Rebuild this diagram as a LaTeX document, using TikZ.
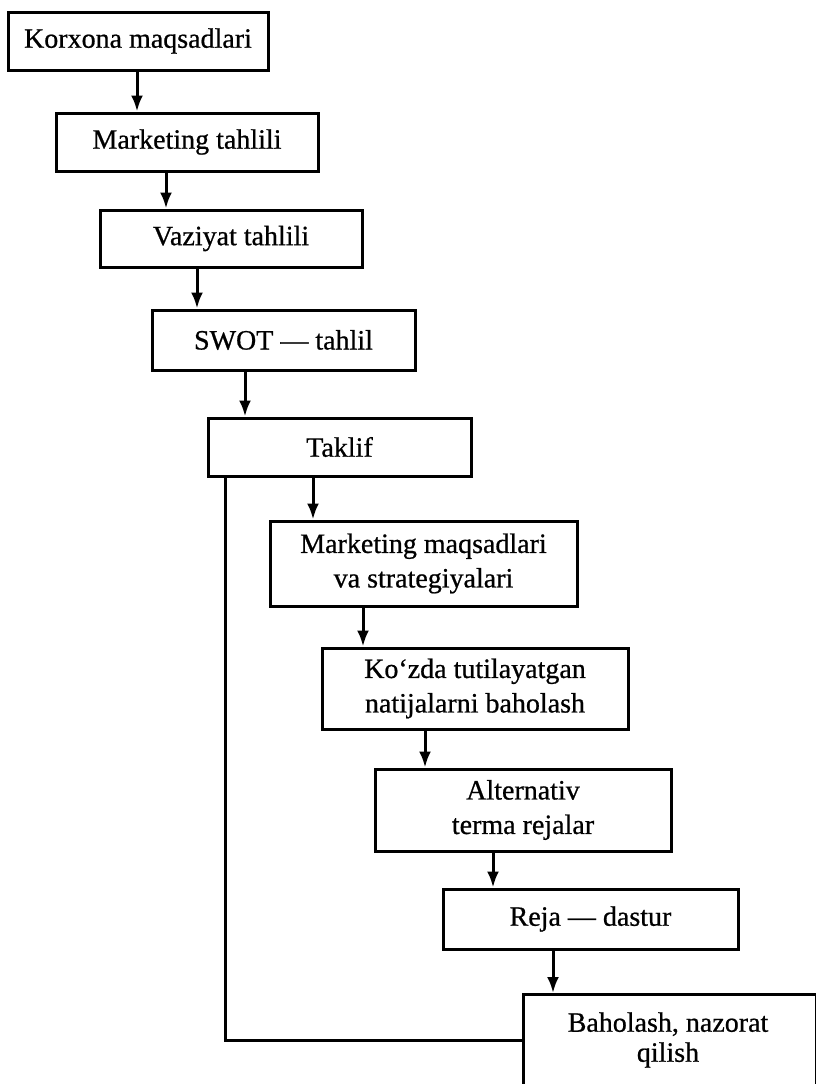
\documentclass[tikz,border=0pt]{standalone}
\usepackage{fontspec}
\setmainfont{Liberation Serif}[FakeBold=0.7]
\usetikzlibrary{arrows.meta}
\tikzset{
  box/.style={draw, line width=3pt, inner sep=0pt, align=center,
    font=\fontsize{28}{34.5}\selectfont},
  arr/.style={line width=3pt, -{Latex[length=16pt,width=12pt]}},
  fbline/.style={line width=3pt},
}
\begin{document}
\begin{tikzpicture}[x=1pt,y=-1pt]
\useasboundingbox (0,0) rectangle (816,1084);
\node[box, minimum width=260pt, minimum height=58pt] (b1) at (138,41) {Korxona maqsadlari};
\node[box, minimum width=262pt, minimum height=58pt] (b2) at (187,142) {Marketing tahlili};
\node[box, minimum width=262pt, minimum height=57pt] (b3) at (231,238.5) {Vaziyat tahlili};
\node[box, minimum width=263pt, minimum height=60pt] (b4) at (283.5,340) {SWOT — tahlil};
\node[box, minimum width=263pt, minimum height=58pt] (b5) at (339.5,447) {Taklif};
\node[box, minimum width=307pt, minimum height=85pt] (b6) at (423.5,563.5) {Marketing maqsadlari\\va strategiyalari};
\node[box, minimum width=306pt, minimum height=81pt] (b7) at (475,688.5) {Ko‘zda tutilayatgan\\natijalarni baholash};
\node[box, minimum width=296pt, minimum height=82pt] (b8) at (523,810) {Alternativ\\terma rejalar};
\node[box, minimum width=295pt, minimum height=60pt] (b9) at (590.5,919) {Reja — dastur};
\node[box, minimum width=293pt, minimum height=102pt, anchor=north west] (b10) at (522,993) {};
\node[align=center, inner sep=0pt, font=\fontsize{28}{30}\selectfont] (b10t) at (668,1040) {Baholash, nazorat\\qilish};

\draw[arr] ([xshift=-1pt]b1.south) coordinate (t1) -- (t1 |- b2.north);
\draw[arr] ([xshift=-21pt]b2.south) coordinate (t2) -- (t2 |- b3.north);
\draw[arr] ([xshift=-34pt]b3.south) coordinate (t3) -- (t3 |- b4.north);
\draw[arr] ([xshift=-38.5pt]b4.south) coordinate (t4) -- (t4 |- b5.north);
\draw[arr] ([xshift=-26.5pt]b5.south) coordinate (t5) -- (t5 |- b6.north);
\draw[arr] ([xshift=-60.5pt]b6.south) coordinate (t6) -- (t6 |- b7.north);
\draw[arr] ([xshift=-50pt]b7.south) coordinate (t7) -- (t7 |- b8.north);
\draw[arr] ([xshift=-30pt]b8.south) coordinate (t8) -- (t8 |- b9.north);
\draw[arr] ([xshift=-37.5pt]b9.south) coordinate (t9) -- (t9 |- b10.north);

\coordinate (fb) at (225,1040);
\draw[fbline] ([xshift=-114.5pt]b5.south) -- (fb) -- (fb -| b10.west);
\end{tikzpicture}
\end{document}
